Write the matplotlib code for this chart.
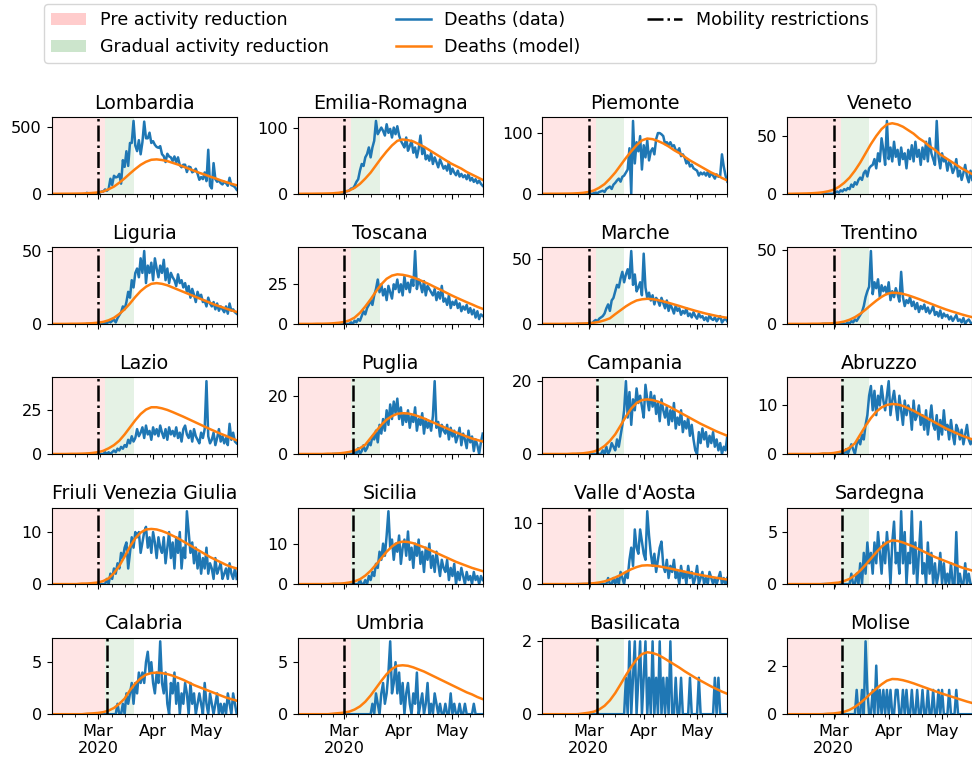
"""
Regional daily deaths vs model, Italy 2020 (5x4 grid).
"""
import numpy as np
import pandas as pd
import matplotlib
matplotlib.use("Agg")
import matplotlib.pyplot as plt
import matplotlib.dates as mdates
import matplotlib.patches as mpatches
from matplotlib.lines import Line2D
from matplotlib.ticker import FuncFormatter

# ── data ─────────────────────────────────────────────────────────────────────
# daily deaths: 2020-02-24 .. 2020-05-18 (one value per day, 85 values)
# model: 2020-02-03 .. 2020-05-18, every 3 days (36 values)

lombardia_data = [6, 3, 0, 5, 0, 0, 6,
                  8, 17, 17, 33, 22, 36, 113,
                  66, 135, 123, 127, 149, 76, 252,
                  202, 319, 209, 381, 381, 546, 361,
                  320, 402, 296, 387, 541, 416, 416,
                  458, 381, 394, 367, 351, 345, 357,
                  297, 282, 238, 300, 280, 273, 246,
                  280, 235, 273, 215, 199, 218, 218,
                  163, 204, 199, 161, 170, 188, 150,
                  105, 125, 110, 160, 95, 330, 60,
                  40, 230, 110, 90, 100, 80, 70,
                  90, 80, 60, 120, 65, 60, 50,
                  30]
lombardia_model = [0, 0, 0.3, 0.5, 0.8, 1.3, 2.2, 4, 6.5, 10, 18, 34, 54, 83, 116, 152,
                   186, 217, 240, 255, 258, 253, 245, 232, 219, 204, 188, 173, 157, 144,
                   129, 116, 101, 88, 75, 64]

emilia_data = [0, 1, 0, 0, 1, 2, 0,
               4, 4, 5, 8, 8, 12, 18,
               22, 35, 45, 42, 55, 60, 70,
               55, 70, 80, 110, 90, 95, 100,
               95, 88, 105, 92, 98, 85, 100,
               90, 102, 88, 80, 75, 70, 85,
               65, 72, 80, 62, 70, 55, 68,
               88, 60, 70, 52, 58, 50, 62,
               45, 55, 48, 40, 52, 45, 38,
               42, 35, 48, 30, 38, 32, 28,
               35, 26, 30, 25, 28, 22, 30,
               20, 24, 18, 22, 16, 20, 15,
               12]
emilia_model = [0, 0, 0.1, 0.1, 0.2, 0.3, 0.5, 0.8, 1.5, 2.8, 5, 9, 15, 23, 32, 43,
                54, 64, 73, 80, 82, 81, 79, 75, 71, 66, 61, 56, 51, 46,
                42, 38, 33, 29, 25, 21]

piemonte_data = [0, 0, 0, 0, 0, 0, 0,
                 0, 0, 1, 2, 1, 3, 4,
                 5, 3, 8, 10, 12, 8, 15,
                 18, 22, 25, 20, 28, 30, 35,
                 40, 75, 0, 120, 50, 85, 70,
                 95, 40, 80, 60, 88, 55, 70,
                 75, 65, 90, 100, 100, 98, 95,
                 82, 85, 80, 85, 78, 80, 72,
                 70, 75, 62, 65, 60, 50, 55,
                 45, 48, 42, 40, 38, 30, 35,
                 32, 35, 30, 36, 28, 34, 30,
                 25, 32, 28, 30, 65, 45, 30,
                 20]
piemonte_model = [0, 0, 0.1, 0.1, 0.2, 0.3, 0.5, 0.9, 1.6, 3, 5.5, 10, 16, 25, 35, 47,
                  59, 70, 80, 88, 91, 90, 87, 83, 78, 72, 67, 61, 55, 50,
                  45, 40, 35, 31, 26, 22]

veneto_data = [0, 1, 0, 0, 0, 0, 0,
               1, 2, 1, 3, 2, 4, 3,
               5, 4, 8, 6, 10, 8, 12,
               14, 12, 18, 20, 15, 22, 24,
               25, 30, 22, 35, 28, 48, 38,
               25, 63, 30, 40, 28, 45, 32,
               38, 25, 40, 30, 35, 22, 38,
               30, 42, 28, 45, 32, 38, 25,
               40, 30, 45, 28, 48, 35, 30,
               25, 63, 32, 22, 35, 28, 30,
               20, 28, 25, 18, 22, 30, 15,
               20, 12, 18, 25, 15, 10, 20,
               12]
veneto_model = [0, 0, 0.1, 0.2, 0.3, 0.5, 0.8, 1.3, 2.2, 3.5, 6, 9.5, 14, 20, 27, 35,
                43, 50, 56, 60, 61, 60, 58, 55, 52, 48, 45, 41, 38, 34,
                31, 28, 25, 22, 19.5, 17]

liguria_data = [0, 0, 0, 0, 0, 0, 0,
                0, 0, 0, 1, 0, 2, 1,
                2, 3, 1, 4, 6, 8, 12,
                10, 15, 22, 18, 30, 25, 35,
                38, 32, 45, 35, 50, 28, 40,
                35, 42, 30, 45, 38, 32, 40,
                35, 44, 30, 38, 28, 35, 32,
                30, 26, 34, 28, 30, 25, 28,
                22, 26, 18, 24, 20, 15, 22,
                18, 20, 15, 16, 12, 18, 14,
                12, 15, 10, 14, 9, 12, 10,
                8, 12, 7, 14, 9, 10, 8,
                7]
liguria_model = [0, 0, 0, 0, 0.1, 0.1, 0.2, 0.3, 0.5, 0.8, 1.4, 2.5, 4.2, 6.8, 10, 14,
                 18.5, 22.5, 25.5, 27.5, 28, 27.5, 26.5, 25, 23.5, 22, 20.5, 19, 17.5, 16,
                 14.5, 13, 11.8, 10.5, 9.3, 8.2]

toscana_data = [0, 0, 0, 0, 0, 0, 0,
                0, 0, 0, 1, 0, 2, 1,
                3, 2, 5, 8, 6, 10, 12,
                15, 12, 18, 22, 28, 20, 25,
                18, 22, 15, 24, 20, 16, 25,
                22, 28, 20, 25, 18, 30, 22,
                26, 20, 28, 24, 46, 22, 28,
                25, 20, 27, 18, 24, 22, 20,
                18, 22, 15, 20, 16, 24, 14,
                16, 12, 18, 10, 14, 12, 15,
                10, 13, 8, 11, 9, 12, 7,
                10, 6, 9, 4, 8, 3, 6,
                5]
toscana_model = [0, 0, 0, 0, 0.1, 0.1, 0.2, 0.4, 0.7, 1.2, 2.2, 4, 7, 11, 15.5, 20.5,
                 25, 28.5, 30.5, 31.3, 31, 30.3, 29.3, 28, 26.5, 25, 23.3, 21.7, 20, 18.3,
                 16.7, 15.2, 13.7, 12.3, 10.8, 9.5]

marche_data = [0, 0, 0, 0, 0, 0, 0,
               1, 0, 2, 3, 2, 4, 5,
               6, 8, 12, 15, 10, 18, 20,
               25, 30, 28, 35, 40, 32, 38,
               42, 35, 56, 30, 38, 25, 28,
               32, 22, 54, 28, 20, 24, 18,
               22, 15, 20, 18, 14, 20, 16,
               12, 18, 10, 15, 12, 8, 14,
               10, 12, 7, 10, 8, 12, 6,
               8, 5, 9, 6, 4, 8, 5,
               6, 3, 5, 2, 7, 4, 3,
               5, 2, 4, 6, 1, 3, 4,
               2]
marche_model = [0, 0, 0, 0, 0, 0.1, 0.1, 0.2, 0.3, 0.5, 0.9, 1.6, 2.8, 4.3, 7.5, 10.5,
                13.5, 16, 18, 18.9, 19.3, 19, 18.3, 17.3, 16.2, 15, 13.8, 12.5, 11.3, 10.1,
                9, 7.9, 7, 6.1, 5.3, 4.7]

trentino_data = [0, 0, 0, 0, 0, 0, 0,
                 0, 0, 0, 0, 1, 0, 0,
                 1, 0, 2, 1, 3, 2, 4,
                 6, 8, 12, 18, 22, 25, 49,
                 20, 28, 24, 30, 18, 26, 22,
                 25, 20, 28, 16, 22, 18, 24,
                 20, 15, 35, 18, 12, 16, 14,
                 18, 12, 15, 10, 14, 8, 12,
                 10, 13, 8, 11, 7, 9, 12,
                 6, 8, 5, 9, 4, 7, 5,
                 6, 3, 5, 2, 4, 6, 2,
                 3, 1, 4, 0, 2, 3, 1,
                 0]
trentino_model = [0, 0, 0, 0, 0, 0.1, 0.1, 0.2, 0.3, 0.5, 0.9, 1.6, 2.8, 4.5, 6.8, 9.6,
                  12.7, 15.6, 18.2, 20.2, 21, 20.8, 20.2, 19.2, 18, 16.7, 15.3, 13.9, 12.5, 11.1,
                  9.8, 8.6, 7.5, 6.4, 5.4, 4.5]

lazio_data = [0, 0, 0, 0, 0, 0, 0,
              0, 0, 0, 1, 0, 1, 0,
              1, 2, 1, 3, 2, 4, 3,
              5, 4, 8, 6, 10, 7, 9,
              14, 10, 12, 15, 9, 16, 11,
              13, 8, 15, 11, 14, 10, 16,
              12, 9, 14, 8, 15, 11, 13,
              10, 15, 9, 12, 7, 14, 16,
              11, 9, 13, 7, 14, 10, 8,
              6, 12, 9, 14, 41, 10, 6,
              8, 12, 5, 9, 14, 7, 10,
              6, 9, 5, 17, 8, 12, 7,
              6]
lazio_model = [0, 0, 0, 0, 0.1, 0.1, 0.2, 0.3, 0.6, 1, 1.8, 3.2, 5, 7.5, 11, 15,
               19, 22.5, 25, 26.3, 26.3, 25.7, 24.8, 23.6, 22.3, 21, 19.6, 18.2, 16.8, 15.4,
               14, 12.7, 11.4, 10.2, 8.9, 7.7]

puglia_data = [0, 0, 0, 0, 0, 0, 0,
               0, 0, 0, 0, 0, 1, 0,
               2, 0, 1, 3, 1, 2, 4,
               3, 6, 5, 8, 4, 10, 7,
               12, 8, 15, 10, 17, 12, 18,
               14, 19, 12, 16, 10, 14, 11,
               15, 9, 13, 11, 16, 8, 12,
               10, 14, 7, 12, 9, 11, 8,
               13, 25, 9, 11, 6, 10, 8,
               7, 10, 5, 9, 6, 8, 4,
               6, 9, 3, 7, 5, 2, 8,
               4, 6, 1, 5, 3, 0, 4,
               7]
puglia_model = [0, 0, 0, 0, 0, 0, 0.1, 0.1, 0.2, 0.4, 0.7, 1.2, 2, 3.2, 5.5, 7.8,
                10, 11.8, 13, 13.8, 14, 13.9, 13.5, 12.9, 12.2, 11.4, 10.6, 9.8, 9, 8.2,
                7.4, 6.7, 6, 5.3, 4.8, 4.3]

campania_data = [0, 0, 0, 0, 0, 0, 0,
                 0, 0, 0, 0, 0, 0, 0,
                 1, 0, 2, 0, 1, 3, 2,
                 1, 4, 2, 5, 8, 12, 20,
                 10, 17, 8, 15, 12, 18, 14,
                 16, 13, 10, 19, 15, 12, 17,
                 13, 16, 11, 14, 9, 15, 12,
                 10, 13, 8, 12, 9, 14, 7,
                 10, 8, 12, 6, 9, 7, 10,
                 5, 8, 4, 1, 0, 6, 3,
                 7, 4, 6, 2, 5, 3, 6,
                 2, 4, 1, 3, 0, 2, 1,
                 5]
campania_model = [0, 0, 0, 0, 0, 0, 0.1, 0.1, 0.2, 0.4, 0.7, 1.2, 2.2, 3.6, 5.4, 7.8,
                  10.3, 12.5, 14, 14.8, 15, 14.8, 14.4, 13.8, 13.1, 12.3, 11.5, 10.7, 9.9, 9.1,
                  8.3, 7.6, 6.9, 6.2, 5.6, 5]

abruzzo_data = [0, 0, 0, 0, 0, 0, 0,
                0, 0, 0, 0, 0, 0, 1,
                0, 1, 2, 1, 0, 2, 3,
                2, 4, 3, 6, 8, 12, 14,
                9, 13, 8, 12, 10, 14, 11,
                9, 12, 15, 8, 11, 13, 10,
                7, 12, 9, 6, 11, 8, 10,
                9, 5, 11, 7, 8, 10, 6,
                8, 5, 9, 4, 7, 10, 6,
                5, 8, 3, 7, 4, 9, 5,
                6, 3, 7, 4, 2, 6, 5,
                3, 5, 2, 4, 6, 3, 2,
                3]
abruzzo_model = [0, 0, 0, 0, 0, 0, 0, 0.1, 0.1, 0.2, 0.4, 0.7, 1.3, 2.2, 4, 5.8,
                 7.4, 8.7, 9.6, 10.1, 10.3, 10.2, 9.9, 9.4, 8.9, 8.3, 7.7, 7.1, 6.5, 5.9,
                 5.3, 4.8, 4.3, 3.8, 3.4, 3]

friuli_data = [0, 0, 0, 0, 0, 0, 0,
               0, 0, 0, 0, 1, 0, 2,
               1, 3, 2, 4, 3, 6, 5,
               7, 8, 3, 6, 9, 7, 10,
               9, 10, 6, 8, 10, 11, 7,
               9, 6, 10, 8, 5, 9, 7,
               6, 9, 4, 7, 10, 5, 8,
               3, 9, 6, 10, 3, 7, 5,
               14, 10, 6, 8, 4, 7, 3,
               6, 2, 5, 3, 7, 2, 4,
               3, 1, 5, 2, 3, 4, 1,
               2, 3, 1, 4, 2, 1, 3,
               1]
friuli_model = [0, 0, 0, 0, 0, 0, 0.1, 0.1, 0.2, 0.3, 0.6, 1.1, 2.1, 3.5, 5.3, 7.2,
                8.8, 9.9, 10.5, 10.6, 10.5, 10.2, 9.8, 9.3, 8.8, 8.2, 7.6, 7, 6.4, 5.8,
                5.2, 4.7, 4.2, 3.7, 3.3, 3]

sicilia_data = [0, 0, 0, 0, 0, 0, 0,
                0, 0, 0, 0, 0, 0, 0,
                0, 1, 0, 0, 1, 0, 2,
                1, 3, 2, 5, 4, 8, 6,
                10, 7, 12, 18, 9, 11, 6,
                10, 8, 12, 5, 9, 11, 7,
                13, 6, 9, 4, 10, 7, 11,
                5, 8, 3, 9, 6, 10, 4,
                7, 3, 8, 5, 2, 6, 4,
                3, 6, 1, 4, 2, 5, 0,
                3, 1, 4, 2, 0, 3, 1,
                2, 0, 3, 1, 2, 0, 2,
                1]
sicilia_model = [0, 0, 0, 0, 0, 0, 0, 0.1, 0.1, 0.2, 0.4, 0.7, 1.2, 2.1, 3.3, 4.8,
                 6.4, 8, 9.3, 10.2, 10.5, 10.4, 10.1, 9.6, 9.1, 8.5, 7.9, 7.3, 6.7, 6.1,
                 5.5, 5, 4.5, 4, 3.6, 3.2]

vda_data = [0, 0, 0, 0, 0, 0, 0,
            0, 0, 0, 0, 0, 0, 0,
            0, 0, 0, 1, 0, 0, 1,
            0, 1, 0, 2, 1, 0, 2,
            1, 4, 6, 3, 9, 6, 5,
            9, 7, 5, 4, 12, 8, 5,
            3, 5, 2, 4, 6, 7, 3,
            2, 4, 1, 3, 2, 4, 1,
            2, 0, 3, 1, 2, 0, 3,
            1, 2, 0, 1, 3, 0, 1,
            2, 0, 1, 0, 2, 1, 0,
            1, 0, 1, 2, 0, 1, 0,
            1]
vda_model = [0, 0, 0, 0, 0, 0, 0, 0, 0.05, 0.08, 0.15, 0.27, 0.45, 0.75, 1.1, 1.5,
             2, 2.45, 2.8, 3.05, 3.1, 3.05, 2.95, 2.8, 2.62, 2.43, 2.24, 2.05, 1.86, 1.68,
             1.5, 1.34, 1.18, 1.03, 0.89, 0.76]

sardegna_data = [0, 0, 0, 0, 0, 0, 0,
                 0, 0, 0, 0, 0, 0, 0,
                 0, 0, 1, 0, 0, 1, 0,
                 2, 0, 3, 1, 4, 2, 3,
                 1, 4, 2, 5, 3, 1, 4,
                 2, 5, 3, 0, 4, 6, 2,
                 3, 1, 7, 2, 5, 0, 3,
                 2, 7, 1, 4, 0, 3, 6,
                 1, 2, 0, 4, 1, 3, 0,
                 2, 0, 1, 3, 0, 2, 0,
                 1, 0, 2, 0, 0, 5, 0,
                 1, 0, 0, 2, 0, 1, 0,
                 0]
sardegna_model = [0, 0, 0, 0, 0, 0, 0, 0, 0.05, 0.1, 0.15, 0.3, 0.5, 0.85, 1.3, 1.85,
                  2.45, 3.05, 3.6, 4, 4.2, 4.15, 4, 3.8, 3.6, 3.35, 3.1, 2.85, 2.6, 2.4,
                  2.2, 2, 1.8, 1.6, 1.45, 1.3]

calabria_data = [0, 0, 0, 0, 0, 0, 0,
                 0, 0, 0, 0, 0, 0, 0,
                 0, 0, 0, 1, 0, 0, 1,
                 0, 2, 1, 2, 3, 1, 3,
                 2, 4, 3, 4, 3, 5, 6,
                 4, 5, 3, 2, 4, 3, 7,
                 3, 2, 4, 1, 0, 3, 2,
                 4, 1, 3, 0, 2, 1, 3,
                 2, 0, 3, 1, 2, 0, 1,
                 2, 1, 0, 3, 1, 0, 2,
                 1, 0, 1, 2, 0, 1, 0,
                 1, 0, 2, 1, 0, 2, 1,
                 0]
calabria_model = [0, 0, 0, 0, 0, 0, 0, 0.05, 0.08, 0.12, 0.2, 0.35, 0.6, 1, 1.5, 2.3,
                  2.95, 3.45, 3.8, 3.95, 4, 3.95, 3.85, 3.7, 3.5, 3.3, 3.05, 2.8, 2.6, 2.4,
                  2.2, 2, 1.8, 1.6, 1.45, 1.3]

umbria_data = [0, 0, 0, 0, 0, 0, 0,
               0, 0, 0, 0, 0, 0, 0,
               0, 0, 0, 0, 0, 0, 0,
               0, 1, 0, 2, 1, 0, 2,
               3, 1, 2, 4, 7, 2, 3,
               5, 2, 4, 1, 3, 0, 2,
               3, 1, 0, 2, 1, 4, 0,
               1, 2, 0, 1, 3, 0, 1,
               0, 2, 1, 0, 1, 0, 0,
               1, 0, 0, 2, 0, 1, 0,
               0, 1, 0, 0, 1, 0, 0,
               0, 0, 1, 0, 0, 0, 0,
               0]
umbria_model = [0, 0, 0, 0, 0, 0, 0, 0.05, 0.1, 0.15, 0.25, 0.45, 0.75, 1.2, 1.8, 2.5,
                3.2, 3.85, 4.35, 4.65, 4.7, 4.65, 4.5, 4.3, 4.1, 3.85, 3.6, 3.35, 3.1, 2.85,
                2.6, 2.35, 2.1, 1.9, 1.65, 1.45]

basilicata_data = [0, 0, 0, 0, 0, 0, 0,
                   0, 0, 0, 0, 0, 0, 0,
                   0, 0, 0, 0, 0, 0, 0,
                   0, 0, 0, 0, 0, 0, 1,
                   0, 2, 0, 1, 2, 0, 1,
                   2, 0, 1, 2, 0, 1, 0,
                   2, 0, 1, 0, 2, 0, 1,
                   0, 1, 0, 2, 0, 0, 1,
                   0, 0, 1, 0, 0, 0, 0,
                   1, 0, 0, 0, 0, 1, 0,
                   0, 0, 0, 0, 0, 0, 0,
                   1, 0, 1, 0, 0, 0, 0,
                   0]
basilicata_model = [0, 0, 0, 0, 0, 0, 0, 0, 0.02, 0.04, 0.07, 0.13, 0.23, 0.38, 0.58, 0.82,
                    1.07, 1.3, 1.5, 1.65, 1.7, 1.68, 1.63, 1.55, 1.46, 1.37, 1.28, 1.18, 1.09, 1,
                    0.92, 0.84, 0.76, 0.69, 0.62, 0.56]

molise_data = [0, 0, 0, 0, 0, 0, 0,
               0, 0, 0, 0, 0, 0, 0,
               0, 0, 0, 0, 0, 1, 0,
               0, 1, 0, 3, 1, 0, 0,
               1, 0, 2, 0, 1, 0, 1,
               0, 1, 0, 1, 0, 0, 1,
               1, 0, 0, 1, 0, 1, 0,
               0, 1, 0, 0, 1, 0, 0,
               1, 0, 0, 1, 0, 0, 1,
               0, 0, 1, 0, 1, 0, 0,
               0, 1, 0, 0, 0, 1, 0,
               0, 0, 0, 0, 0, 0, 0,
               0]
molise_model = [0, 0, 0, 0, 0, 0, 0, 0, 0.02, 0.03, 0.06, 0.1, 0.18, 0.3, 0.46, 0.65,
                0.86, 1.05, 1.23, 1.38, 1.45, 1.44, 1.4, 1.34, 1.27, 1.19, 1.11, 1.03, 0.95, 0.87,
                0.8, 0.73, 0.66, 0.59, 0.52, 0.46]

REGIONS = ["Lombardia", "Emilia-Romagna", "Piemonte", "Veneto",
           "Liguria", "Toscana", "Marche", "Trentino",
           "Lazio", "Puglia", "Campania", "Abruzzo",
           "Friuli Venezia Giulia", "Sicilia", "Valle d'Aosta", "Sardegna",
           "Calabria", "Umbria", "Basilicata", "Molise"]
DATA = [lombardia_data, emilia_data, piemonte_data, veneto_data,
        liguria_data, toscana_data, marche_data, trentino_data,
        lazio_data, puglia_data, campania_data, abruzzo_data,
        friuli_data, sicilia_data, vda_data, sardegna_data,
        calabria_data, umbria_data, basilicata_data, molise_data]
MODEL = [lombardia_model, emilia_model, piemonte_model, veneto_model,
         liguria_model, toscana_model, marche_model, trentino_model,
         lazio_model, puglia_model, campania_model, abruzzo_model,
         friuli_model, sicilia_model, vda_model, sardegna_model,
         calabria_model, umbria_model, basilicata_model, molise_model]
MOBILITY = ["2020-03-01", "2020-03-01", "2020-03-01", "2020-03-01",
            "2020-03-01", "2020-03-01", "2020-03-01", "2020-03-01",
            "2020-03-01", "2020-03-06", "2020-03-06", "2020-03-06",
            "2020-03-01", "2020-03-06", "2020-03-01", "2020-03-06",
            "2020-03-06", "2020-03-01", "2020-03-06", "2020-03-06"]
YTICKS = [[0, 500], [0, 100], [0, 100], [0, 50],
          [0, 50], [0, 25], [0, 50], [0, 50],
          [0, 25], [0, 20], [0, 20], [0, 10],
          [0, 10], [0, 10], [0, 10], [0, 5],
          [0, 5], [0, 5], [0, 2], [0, 2]]

DATA_DATES = pd.date_range("2020-02-24", "2020-05-18", freq="D")
MODEL_DATES = pd.date_range("2020-02-03", "2020-05-18", freq="3D")
XLIM = (pd.Timestamp("2020-02-04"), pd.Timestamp("2020-05-18"))
PRE_END = pd.Timestamp("2020-03-05")
GRAD_END = pd.Timestamp("2020-03-21")

BLUE, ORANGE = "#1f77b4", "#ff7f0e"

# ── layout (pixel positions of the reference) ───────────────────────────────
W, H = 972, 762
COL_LEFT = [51.7, 297.7, 542.3, 787.3]
ROW_TOP = [117.3, 247.4, 377.5, 507.6, 637.7]
AX_W, AX_H = 185, 76.5


def month_fmt(x, pos):
    d = mdates.num2date(x)
    return d.strftime("%b\n%Y") if d.month == 3 else d.strftime("%b")


fig = plt.figure(figsize=(W / 100, H / 100), dpi=100)

for i, name in enumerate(REGIONS):
    r, c = divmod(i, 4)
    ax = fig.add_axes([COL_LEFT[c] / W, 1 - (ROW_TOP[r] + AX_H) / H, AX_W / W, AX_H / H])

    ax.axvspan(XLIM[0], PRE_END, color="red", alpha=0.1, lw=0)
    ax.axvspan(PRE_END, GRAD_END, color="green", alpha=0.1, lw=0)
    ax.plot(DATA_DATES, DATA[i], color=BLUE, lw=1.8)
    ax.plot(MODEL_DATES, MODEL[i], color=ORANGE, lw=1.8)
    ax.axvline(pd.Timestamp(MOBILITY[i]), color="black", ls="-.", lw=1.8)

    top = 1.05 * max(max(DATA[i]), max(MODEL[i]))
    ax.set_ylim(0, top)
    ax.set_xlim(*XLIM)
    ax.set_yticks(YTICKS[i])
    ax.set_title(name, fontsize=13.7)

    ax.xaxis.set_major_locator(mdates.MonthLocator())
    ax.xaxis.set_minor_locator(mdates.WeekdayLocator(byweekday=mdates.MO))
    if r == 4:
        ax.xaxis.set_major_formatter(FuncFormatter(month_fmt))
    else:
        ax.xaxis.set_major_formatter(FuncFormatter(lambda x, pos: ""))
    ax.tick_params(labelsize=11.6)

handles = [mpatches.Patch(color="red", alpha=0.2, lw=0, label="Pre activity reduction"),
           mpatches.Patch(color="green", alpha=0.2, lw=0, label="Gradual activity reduction"),
           Line2D([], [], color=BLUE, lw=1.8, label="Deaths (data)"),
           Line2D([], [], color=ORANGE, lw=1.8, label="Deaths (model)"),
           Line2D([], [], color="black", ls="-.", lw=1.8, label="Mobility restrictions")]
fig.legend(handles=handles, loc="upper left", bbox_to_anchor=(44 / W, 1 - 4 / H),
           ncol=3, fontsize=12.6, borderaxespad=0, columnspacing=3.8,
           borderpad=0.4)

fig.savefig("out.png", dpi=100)
